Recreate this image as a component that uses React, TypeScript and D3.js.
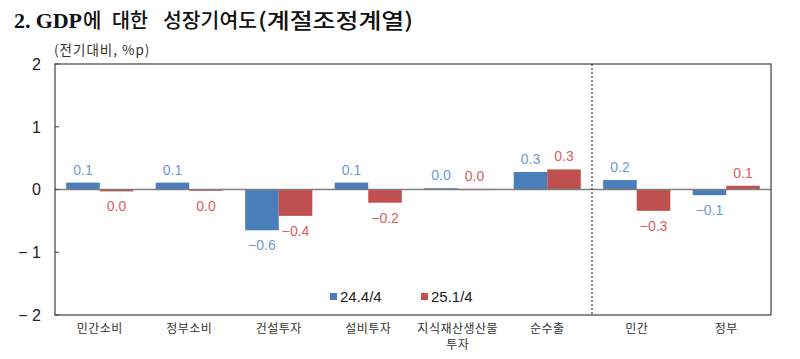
import React from "react";
import * as d3 from "d3";

const categories = ["민간소비", "정부소비", "건설투자", "설비투자", "지식재산생산물\n투자", "순수출", "민간", "정부"];
const series1Name = "24.4/4";
const series2Name = "25.1/4";
const series1 = [0.11, 0.11, -0.65, 0.11, 0.02, 0.28, 0.15, -0.09];
const series2 = [-0.03, -0.02, -0.42, -0.21, 0.01, 0.32, -0.34, 0.06];
const labels1 = ["0.1", "0.1", "\u22120.6", "0.1", "0.0", "0.3", "0.2", "\u22120.1"];
const labels2 = ["0.0", "0.0", "\u22120.4", "\u22120.2", "0.0", "0.3", "\u22120.3", "0.1"];
const yTicks = [2, 1, 0, -1, -2];
const yTickLabels = ["2", "1", "0", "\u2212 1", "\u2212 2"];

const W = 800, H = 359;
const L = 55, R = 771, T = 64, B = 315;
const KR = "'Noto Sans CJK KR', sans-serif";
const NUM = "'Liberation Sans', Arial, sans-serif";

export default function App() {
  const x = d3.scaleBand<string>().domain(categories).range([L, R]).paddingInner(0).paddingOuter(0);
  const y = d3.scaleLinear().domain([-2, 2]).range([B, T]);
  const bw = x.bandwidth();
  const inner = d3.scaleBand<string>().domain(["a", "b"]).range([bw * 0.125, bw * 0.875]);
  const colors = ["#4a7ebb", "#c0504d"];
  const labelColors = ["#6f9ad2", "#d9615e"];
  const all = [series1, series2];
  const allLabels = [labels1, labels2];
  return (
    <svg width={W} height={H} style={{ position: "absolute", left: 0, top: 0, background: "#fff" }}>
      <rect x={0} y={0} width={W} height={H} fill="#fff" />
      <g fill="#111">
        <text x={14} y={28} fontSize={22} fontWeight="bold" fontFamily={"'Liberation Serif', serif"} textLength={68} lengthAdjust="spacing">2. GDP</text>
        <text x={83} y={28} fontSize={20} fontWeight={500} fontFamily={KR}>에</text>
        <text x={112} y={28} fontSize={20} fontWeight={500} fontFamily={KR} textLength={36} lengthAdjust="spacingAndGlyphs">대한</text>
        <text x={163} y={28} fontSize={20} fontWeight={500} fontFamily={KR} textLength={94} lengthAdjust="spacingAndGlyphs">성장기여도</text>
        <text x={258} y={28} fontSize={21} fontWeight={500} fontFamily={KR} textLength={155} lengthAdjust="spacingAndGlyphs">(계절조정계열)</text>
      </g>
      <text x={54} y={55} fontSize={13.5} fill="#333" fontFamily={KR} letterSpacing={1}>(전기대비, %p)</text>
      {/* bars */}
      {categories.map((c, i) =>
        all.map((s, k) => {
          const v = s[i];
          const x0 = (x(c) as number) + (inner(k === 0 ? "a" : "b") as number);
          const y0 = Math.min(y(v), y(0));
          const h = Math.abs(y(v) - y(0));
          return <rect key={c + k} x={x0} y={y0} width={inner.bandwidth()} height={Math.max(h, 1.2)} fill={colors[k]} />;
        })
      )}
      {/* zero line */}
      <line x1={L} x2={R} y1={y(0)} y2={y(0)} stroke="#7f7f7f" strokeWidth={1.5} />
      {/* divider */}
      <line x1={x(categories[6])} x2={x(categories[6])} y1={T} y2={B} stroke="#666" strokeWidth={1.5} strokeDasharray="2,2" />
      {/* frame */}
      <rect x={L} y={T} width={R - L} height={B - T} fill="none" stroke="#404040" strokeWidth={1.2} />
      {yTicks.map((t, i) => (
        <g key={t}>
          <line x1={L} x2={L + 4} y1={y(t)} y2={y(t)} stroke="#404040" strokeWidth={1} />
          <text x={41} y={y(t)} dy="0.36em" textAnchor="end" fontSize={16} fill="#222" fontFamily={NUM}>{yTickLabels[i]}</text>
        </g>
      ))}
      {/* value labels */}
      {categories.map((c, i) =>
        all.map((s, k) => {
          const v = s[i];
          const cx = (x(c) as number) + (inner(k === 0 ? "a" : "b") as number) + inner.bandwidth() / 2;
          const ty = v >= 0 ? y(v) - 8 : y(v) + 20;
          return (
            <text key={"l" + c + k} x={cx} y={ty} textAnchor="middle" fontSize={14} fill={labelColors[k]} fontFamily={NUM}>
              {allLabels[k][i]}
            </text>
          );
        })
      )}
      {/* x labels */}
      {categories.map((c) => {
        const lines = c.split("\n");
        const cx = (x(c) as number) + bw / 2;
        return (
          <text key={"x" + c} x={cx} y={333} textAnchor="middle" fontSize={12} fill="#333" fontFamily={KR} letterSpacing={0.5}>
            {lines.map((ln, j) => (
              <tspan key={j} x={cx} dy={j === 0 ? 0 : 16}>{ln}</tspan>
            ))}
          </text>
        );
      })}
      {/* legend */}
      <g fontFamily={NUM} fontSize={15} fill="#222">
        <rect x={330} y={293} width={7} height={7} fill={colors[0]} />
        <text x={340} y={302}>{series1Name}</text>
        <rect x={421} y={293} width={7} height={7} fill={colors[1]} />
        <text x={431} y={302}>{series2Name}</text>
      </g>
    </svg>
  );
}
